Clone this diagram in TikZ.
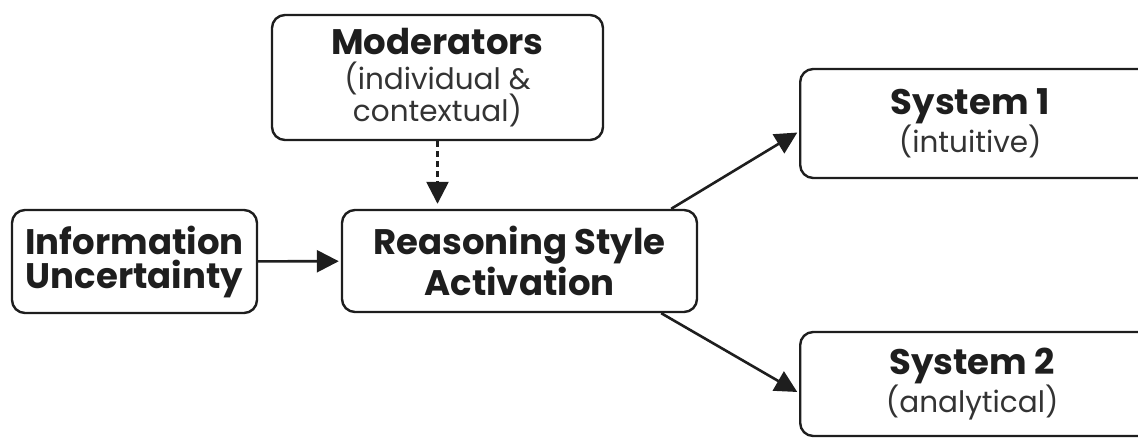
\documentclass[tikz,border=0pt]{standalone}
\usepackage{fontspec}
\setmainfont{Poppins}
\usetikzlibrary{arrows.meta}
\definecolor{ink}{HTML}{1E1E1E}
\definecolor{subink}{HTML}{333333}
\newcommand{\subtxt}[1]{{\mdseries\color{subink}\fontsize{29.5}{33}\selectfont #1}}
\tikzset{
  box/.style={draw=ink, line width=2.4pt, rounded corners=13pt, align=center,
    inner sep=0pt, text=ink, font=\fontsize{35.5}{34}\selectfont\bfseries},
  arr/.style={draw=ink, line width=2.6pt, -{Triangle[length=22pt,width=22pt]}},
  dasharr/.style={arr, dash pattern=on 6pt off 4pt}
}
\begin{document}
\begin{tikzpicture}[x=1pt,y=-1pt]
\useasboundingbox (0,0) rectangle (1138,438);
\node[box, minimum width=245pt, minimum height=103pt] (info) at (134.5,261.5)
  {Information\\Uncertainty};
\node[box, minimum width=331pt, minimum height=125pt] (mod) at (437.5,77.5)
  {Moderators\\[1pt]\subtxt{(individual \&}\\[-2pt]\subtxt{contextual)}};
\node[box, minimum width=355pt, minimum height=102pt] (reason) at (519.5,261)
  {Reasoning Style\\[2pt]Activation};
\node[box, minimum width=360pt, minimum height=109pt, anchor=west] (s1) at (799,123.5)
  {\hspace*{-20pt}System 1\\\hspace*{-20pt}\subtxt{(intuitive)}};
\node[box, minimum width=360pt, minimum height=104pt, anchor=west] (s2) at (799,384)
  {\hspace*{-16pt}System 2\\\hspace*{-16pt}\subtxt{(analytical)}};
\coordinate (r1) at ([xshift=-27pt]reason.north east);
\coordinate (r2) at ([xshift=-37pt]reason.south east);
\coordinate (t1) at ([yshift=-8pt]s1.west);
\coordinate (t2) at ([yshift=-9pt]s2.west);
\draw[arr, shorten >=2pt] (info) -- (reason);
\draw[dasharr, shorten >=5pt] (mod.south) -- (mod.south |- reason.north);
\draw[arr, shorten >=2pt] (r1) -- (t1);
\draw[arr, shorten >=2pt] (r2) -- (t2);
\end{tikzpicture}
\end{document}
